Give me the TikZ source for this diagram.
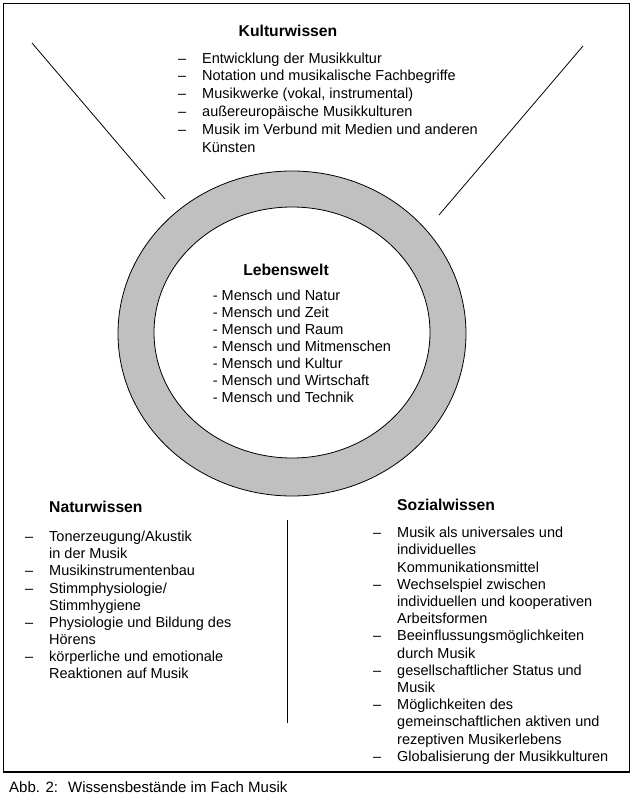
\documentclass[tikz,border=0pt]{standalone}
\usepackage{fontspec}
\setmainfont{Liberation Sans}
\definecolor{ringgray}{RGB}{192,192,192}
\newcommand{\strutx}{\rule{0pt}{14pt}}
\newcommand{\dsh}{\makebox[24pt][l]{–}}
\newcommand{\ind}{\hspace*{24pt}}
\begin{document}
\begin{tikzpicture}[x=1pt,y=-1pt,
  body/.style={font=\fontsize{14.5}{17.2}\selectfont, align=left, inner sep=0pt, anchor=north west},
  ttl/.style={font=\fontsize{15.7}{18}\selectfont\bfseries, inner sep=0pt},
  capt/.style={font=\fontsize{15}{17}\selectfont, inner sep=0pt, anchor=base west},
  thin/.style={line width=0.8pt}]
\useasboundingbox (0,0) rectangle (633,797);
\draw[line width=1.2pt] (3.5,3.5) rectangle (629.5,772);
% ring
\path[fill=ringgray, even odd rule, draw=black, thin]
  (292,333.5) ellipse [x radius=174, y radius=162.5]
  (292,332.5) ellipse [x radius=138, y radius=125.5];
% lines
\coordinate (l1) at (32,43);
\coordinate (l2) at (165,199);
\coordinate (r1) at (583,46);
\coordinate (r2) at (439,215);
\coordinate (v1) at (287,520);
\coordinate (v2) at (287,723);
\draw[thin] (l1) -- (l2);
\draw[thin] (r1) -- (r2);
\draw[line width=1pt] (v1) -- (v2);
% Kulturwissen
\node[ttl, anchor=base] (kt) at (288,36.5) {Kulturwissen};
\node[body, font=\fontsize{14.5}{17.8}\selectfont] (kl) at (178,49)
  {\strutx\dsh Entwicklung der Musikkultur\\
   \dsh Notation und musikalische Fachbegriffe\\
   \dsh Musikwerke (vokal, instrumental)\\
   \dsh außereuropäische Musikkulturen\\
   \dsh Musik im Verbund mit Medien und anderen\\
   \ind Künsten};
% Lebenswelt
\node[ttl, anchor=base] (lt) at (286,275.5) {Lebenswelt};
\node[body, font=\fontsize{14.5}{16.9}\selectfont] (ll) at (212.7,286.5)
  {\strutx- Mensch und Natur\\
   - Mensch und Zeit\\
   - Mensch und Raum\\
   - Mensch und Mitmenschen\\
   - Mensch und Kultur\\
   - Mensch und Wirtschaft\\
   - Mensch und Technik};
% Naturwissen
\node[ttl, anchor=base west] (nt) at (49,512.5) {Naturwissen};
\node[body, font=\fontsize{14.5}{17.1}\selectfont] (nl) at (25,527.5)
  {\strutx\dsh Tonerzeugung/Akustik\\
   \ind in der Musik\\
   \dsh Musikinstrumentenbau\\
   \dsh Stimmphysiologie/\\
   \ind Stimmhygiene\\
   \dsh Physiologie und Bildung des\\
   \ind Hörens\\
   \dsh körperliche und emotionale\\
   \ind Reaktionen auf Musik};
% Sozialwissen
\node[ttl, anchor=base west] (st) at (397,510.5) {Sozialwissen};
\node[body] (sl) at (373,523.5)
  {\strutx\dsh Musik als universales und\\
   \ind individuelles\\
   \ind Kommunikationsmittel\\
   \dsh Wechselspiel zwischen\\
   \ind individuellen und kooperativen\\
   \ind Arbeitsformen\\
   \dsh Beeinflussungsmöglichkeiten\\
   \ind durch Musik\\
   \dsh gesellschaftlicher Status und\\
   \ind Musik\\
   \dsh Möglichkeiten des\\
   \ind gemeinschaftlichen aktiven und\\
   \ind rezeptiven Musikerlebens\\
   \dsh Globalisierung der Musikkulturen};
% caption
\node[capt] (c1) at (9,792.5) {Abb. 2:};
\node[capt] (c2) at (68,792.5) {Wissensbestände im Fach Musik};
\end{tikzpicture}
\end{document}
